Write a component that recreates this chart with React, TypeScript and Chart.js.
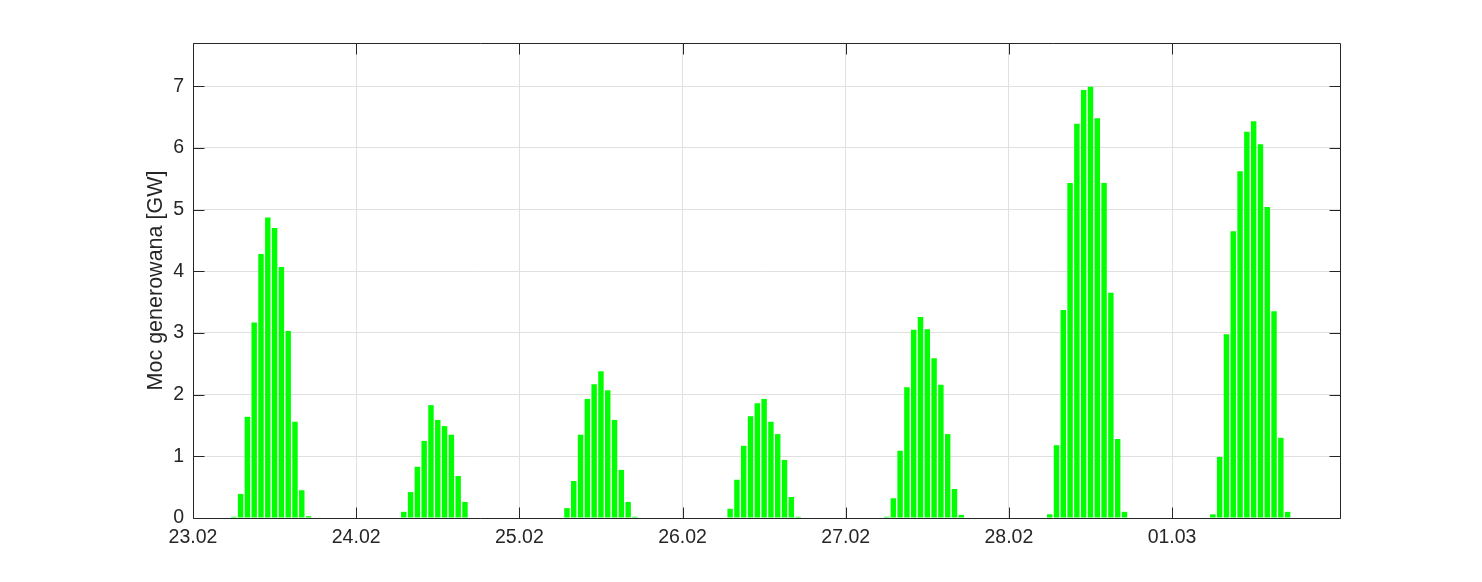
import React, { useEffect, useRef } from "react";
import { Chart, registerables } from "chart.js";

Chart.register(...registerables);

// Day tick labels (one tick per day, at midnight)
const dayLabels = ["23.02", "24.02", "25.02", "26.02", "27.02", "28.02", "01.03"];

// First hour (of the day) that has a bar, per day
const startHours = [6, 7, 7, 7, 6, 6, 6];

// Hourly generated power [GW], per day, starting at startHours[d]
const day1 = [0.02, 0.39, 1.64, 3.17, 4.28, 4.87, 4.7, 4.07, 3.03, 1.56, 0.45, 0.03];
const day2 = [0.1, 0.42, 0.83, 1.25, 1.83, 1.59, 1.49, 1.35, 0.68, 0.26];
const day3 = [0.16, 0.6, 1.35, 1.93, 2.17, 2.38, 2.07, 1.59, 0.78, 0.26, 0.02];
const day4 = [0.15, 0.62, 1.17, 1.65, 1.86, 1.93, 1.56, 1.36, 0.94, 0.34, 0.02];
const day5 = [0.02, 0.32, 1.09, 2.12, 3.05, 3.26, 3.06, 2.59, 2.16, 1.36, 0.47, 0.05];
const day6 = [0.06, 1.18, 3.37, 5.43, 6.39, 6.94, 6.99, 6.48, 5.43, 3.65, 1.28, 0.1];
const day7 = [0.06, 0.99, 2.98, 4.65, 5.62, 6.26, 6.43, 6.06, 5.04, 3.35, 1.3, 0.1];

const days = [day1, day2, day3, day4, day5, day6, day7];

const yTicks = [0, 1, 2, 3, 4, 5, 6, 7];
const X_MAX_HOURS = 168.7;
const Y_MAX = 7.7;

const TEXT = "#262626";
const GRID = "#e0e0e0";
const FONT = "'Liberation Sans', Arial, Helvetica, sans-serif";

const axesBox = {
  id: "axesBox",
  afterDraw(chart: any) {
    const { ctx, chartArea: a, scales } = chart;
    const xs = scales.x;
    const ys = scales.y;
    const L = 11;
    const left = Math.round(a.left) + 0.5;
    const right = Math.round(a.right) + 0.5;
    const top = Math.round(a.top) + 0.5;
    const bottom = Math.round(a.bottom) + 0.5;
    ctx.save();
    ctx.strokeStyle = TEXT;
    ctx.lineWidth = 1;
    ctx.beginPath();
    ctx.rect(left, top, right - left, bottom - top);
    xs.ticks.forEach((t: any) => {
      const px = Math.round(xs.getPixelForValue(t.value)) + 0.5;
      ctx.moveTo(px, bottom);
      ctx.lineTo(px, bottom - L);
      ctx.moveTo(px, top);
      ctx.lineTo(px, top + L);
    });
    ys.ticks.forEach((t: any) => {
      const py = Math.round(ys.getPixelForValue(t.value)) + 0.5;
      ctx.moveTo(left, py);
      ctx.lineTo(left + L, py);
      ctx.moveTo(right, py);
      ctx.lineTo(right - L, py);
    });
    ctx.stroke();
    ctx.restore();
  },
};

export default function App() {
  const ref = useRef<HTMLCanvasElement | null>(null);

  useEffect(() => {
    if (!ref.current) return;
    const points: { x: number; y: number }[] = [];
    days.forEach((vals, d) => {
      vals.forEach((v, i) => {
        points.push({ x: d * 24 + startHours[d] + i, y: v });
      });
    });

    const chart = new Chart(ref.current, {
      type: "bar",
      data: {
        datasets: [
          {
            data: points as any,
            backgroundColor: "#00ff00",
            borderWidth: 0,
            barPercentage: 0.8,
            categoryPercentage: 1,
          },
        ],
      },
      plugins: [axesBox],
      options: {
        responsive: false,
        animation: false,
        events: [],
        layout: { padding: { left: 0, top: 43, right: 142, bottom: 0 } },
        plugins: { legend: { display: false }, tooltip: { enabled: false } },
        scales: {
          x: {
            type: "linear",
            min: 0,
            max: X_MAX_HOURS,
            offset: false,
            afterBuildTicks: (scale: any) => {
              scale.ticks = dayLabels.map((_, i) => ({ value: i * 24 }));
            },
            afterFit: (scale: any) => {
              scale.height = 64;
            },
            grid: { color: GRID, drawTicks: false, offset: false },
            border: { display: false },
            ticks: {
              autoSkip: false,
              maxRotation: 0,
              includeBounds: false,
              padding: 8,
              color: TEXT,
              font: { family: FONT, size: 19.5 },
              callback: (value: any) => dayLabels[Math.round(Number(value) / 24)] ?? "",
            },
          },
          y: {
            min: 0,
            max: Y_MAX,
            afterBuildTicks: (scale: any) => {
              scale.ticks = yTicks.map((v) => ({ value: v }));
            },
            afterFit: (scale: any) => {
              scale.width = 193;
            },
            grid: { color: GRID, drawTicks: false },
            border: { display: false },
            ticks: {
              padding: 9,
              color: TEXT,
              font: { family: FONT, size: 19.5 },
              callback: (value: any) => String(value),
            },
            title: {
              display: true,
              text: "Moc generowana [GW]",
              color: TEXT,
              font: { family: FONT, size: 21.5 },
              padding: { top: 143, bottom: 0 },
            },
          },
        },
      },
    });
    return () => chart.destroy();
  }, []);

  return (
    <canvas
      ref={ref}
      width={1482}
      height={582}
      style={{ position: "absolute", left: 0, top: 0, display: "block" }}
    />
  );
}
